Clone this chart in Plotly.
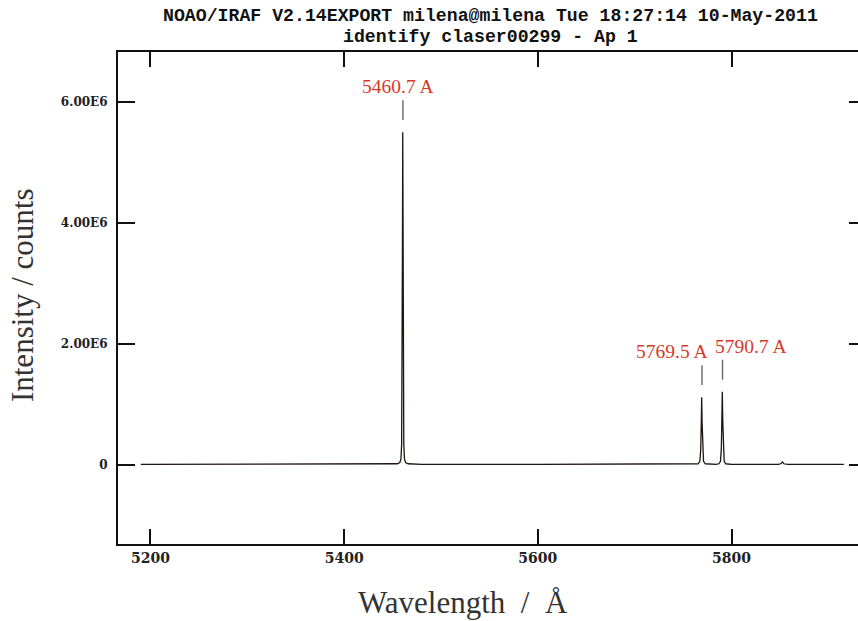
import plotly.graph_objects as go

# ---- data (intensity in units of 1E6 counts) ----
wavelength = [5190, 5300, 5440, 5455, 5457.5, 5458.7, 5459.4, 5459.9, 5460.2, 5460.5,
              5460.8, 5461.1, 5461.6, 5462.3, 5463.5, 5466, 5480, 5600, 5700, 5762,
              5765.5, 5767.3, 5768.2, 5768.8, 5769.2, 5769.6, 5770.2, 5771.1, 5773, 5780,
              5784, 5787, 5788.6, 5789.5, 5790.1, 5790.5, 5790.9, 5791.5, 5792.4, 5794,
              5800, 5848, 5851, 5852.5, 5854, 5858, 5916]
intensity = [0.01, 0.01, 0.01, 0.02, 0.04, 0.10, 0.35, 1.4, 3.6, 5.5,
             3.6, 1.4, 0.35, 0.10, 0.04, 0.02, 0.01, 0.01, 0.01, 0.01,
             0.02, 0.06, 0.25, 0.7, 1.12, 0.7, 0.25, 0.06, 0.02, 0.01,
             0.01, 0.02, 0.06, 0.27, 0.75, 1.21, 0.75, 0.27, 0.06, 0.02,
             0.01, 0.01, 0.02, 0.05, 0.02, 0.01, 0.01]

id_wavelength = [5460.7, 5769.5, 5790.7]
id_peak = [5.5, 1.12, 1.21]
id_labels = ["5460.7 A", "5769.5 A", "5790.7 A"]
id_label_shift = [-5, -30, 28]

x_ticks = [5200, 5400, 5600, 5800]
y_ticks = [0, 2, 4, 6]
y_ticktext = ["0", "2.00E6", "4.00E6", "6.00E6"]

title_lines = ["NOAO/IRAF V2.14EXPORT milena@milena Tue 18:27:14 10-May-2011",
               "identify claser00299 - Ap 1"]

x_range = [5166.5, 5930.6]
y_range = [-1.306, 6.826]

fig = go.Figure()
fig.add_trace(go.Scatter(x=wavelength, y=intensity, mode="lines",
                         line=dict(color="#1e1412", width=1.3), showlegend=False,
                         hoverinfo="skip"))
# invisible trace to activate right-side tick axis
fig.add_trace(go.Scatter(x=[wavelength[0]], y=[intensity[0]], yaxis="y2",
                         mode="markers", marker=dict(opacity=0), showlegend=False,
                         hoverinfo="skip"))

# identification marks and labels
for wl, pk, lab, sh in zip(id_wavelength, id_peak, id_labels, id_label_shift):
    fig.add_shape(type="line", x0=wl, x1=wl, y0=pk + 0.2, y1=pk + 0.53,
                  xref="x", yref="y", line=dict(color="#6e625e", width=1.4))
    fig.add_annotation(x=wl, y=pk + 0.75, xref="x", yref="y", text=lab,
                       showarrow=False, xshift=sh, xanchor="center", yanchor="middle",
                       font=dict(family="Liberation Serif", size=19.5, color="#d63a2c"))

for yy, line in zip([1.073, 1.030], title_lines):
    fig.add_annotation(x=0.504, y=yy, xref="paper", yref="paper", text="<b>%s</b>" % line,
                       showarrow=False, xanchor="center", yanchor="middle",
                       font=dict(family="Liberation Mono", size=18.2, color="#111"))
fig.add_annotation(x=-0.1297, y=0.506, xref="paper", yref="paper", text="Intensity / counts",
                   textangle=-90, showarrow=False, xanchor="center", yanchor="middle",
                   font=dict(family="Liberation Serif", size=31, color="#333"))
fig.add_annotation(x=0.466, y=-0.118, xref="paper", yref="paper",
                   text="Wavelength\u00a0 /\u00a0 Å", showarrow=False,
                   xanchor="center", yanchor="middle",
                   font=dict(family="Liberation Serif", size=31, color="#333"))

fig.update_layout(
    width=858, height=621,
    margin=dict(l=118, r=0, t=52, b=77),
    paper_bgcolor="white", plot_bgcolor="white",
    xaxis=dict(range=x_range, tickvals=x_ticks, ticks="inside", ticklen=15, tickwidth=2,
               tickcolor="#111", showline=True, linecolor="#111", linewidth=2,
               mirror="ticks", showgrid=False, zeroline=False,
               tickfont=dict(family="DejaVu Serif", size=14, color="#222", weight="bold"),
               ticklabelstandoff=0),
    yaxis=dict(range=y_range, tickvals=y_ticks, ticktext=y_ticktext, ticks="inside",
               ticklen=17, tickwidth=2, tickcolor="#111", showline=True, linecolor="#111",
               linewidth=2, mirror=False, showgrid=False, zeroline=False,
               tickfont=dict(family="DejaVu Serif", size=12, color="#222", weight="bold"),
               ticklabelstandoff=6),
    yaxis2=dict(range=y_range, tickvals=y_ticks, overlaying="y", side="right",
                ticks="inside", ticklen=9, tickwidth=2, tickcolor="#111",
                showticklabels=False, showline=False, showgrid=False, zeroline=False),
)

fig.write_html("out.html")
